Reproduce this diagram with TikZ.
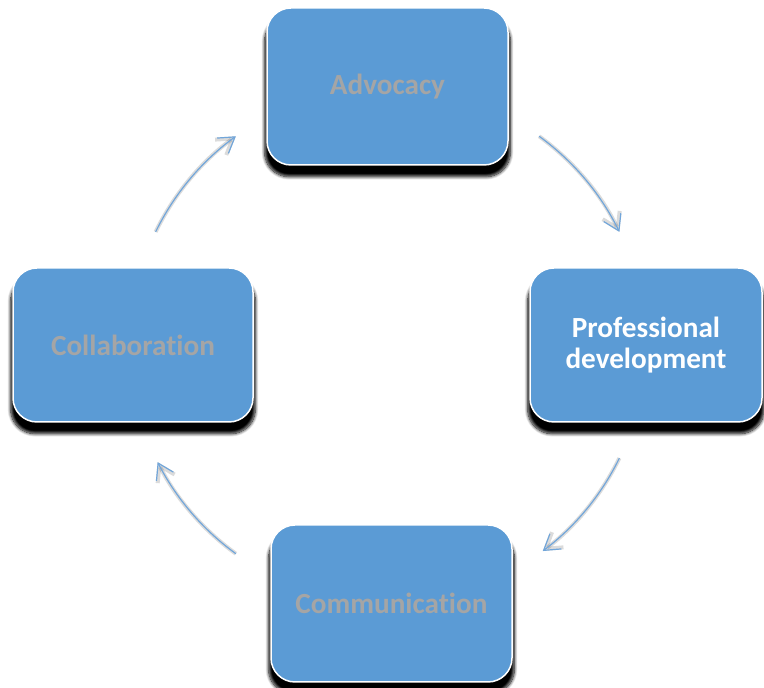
\documentclass[tikz,border=0pt]{standalone}
\usepackage{fontspec}
\setmainfont{Carlito}[Ligatures=NoCommon]
\usetikzlibrary{arrows.meta,shadows.blur}
\definecolor{boxblue}{HTML}{5B9BD5}
\definecolor{labelgray}{HTML}{A5A5A5}
\definecolor{arrowblue}{HTML}{72A6DA}

\begin{document}
\begin{tikzpicture}[x=1pt,y=1pt,
  stage/.style={rectangle, rounded corners=24pt, fill=boxblue, draw=white, line width=1.5pt,
    inner sep=0pt, align=center, text=labelgray, font=\fontsize{29.2}{31}\selectfont\bfseries,
    blur shadow={shadow xshift=0pt, shadow yshift=-10pt, shadow scale=1.02,
      shadow blur radius=3pt, shadow blur steps=10, shadow opacity=100}},
  flow/.style={arrowblue, line width=1.2pt, -{Straight Barb[length=15pt,width=19pt]}},
  flowshade/.style={black, opacity=.14, line width=4pt, -{Straight Barb[length=15pt,width=19pt]}}]
\useasboundingbox (0,0) rectangle (764,688);
\node [stage, minimum width=241, minimum height=157] (adv) at (387.5,601.5) {Advocacy};
\node [stage, minimum width=232, minimum height=154, text=white] (prof) at (646,343) {Professional\\development};
\node [stage, minimum width=241, minimum height=157] (comm) at (391.5,84.5) {Communication};
\node [stage, minimum width=240, minimum height=154] (collab) at (133,343) {Collaboration};
\coordinate (hub) at (adv |- prof);
\draw [flowshade, shift={(1,-5)}] ([shift={(54:258)}]hub) arc [start angle=54, end angle=26, radius=258];
\draw [flow] ([shift={(54:258)}]hub) arc [start angle=54, end angle=26, radius=258];
\draw [flowshade, shift={(1,-5)}] ([shift={(-26:258)}]hub) arc [start angle=-26, end angle=-53, radius=258];
\draw [flow] ([shift={(-26:258)}]hub) arc [start angle=-26, end angle=-53, radius=258];
\draw [flowshade, shift={(1,-5)}] ([shift={(234:258)}]hub) arc [start angle=234, end angle=207, radius=258];
\draw [flow] ([shift={(234:258)}]hub) arc [start angle=234, end angle=207, radius=258];
\draw [flowshade, shift={(1,-5)}] ([shift={(154:258)}]hub) arc [start angle=154, end angle=126, radius=258];
\draw [flow] ([shift={(154:258)}]hub) arc [start angle=154, end angle=126, radius=258];
\end{tikzpicture}
\end{document}
